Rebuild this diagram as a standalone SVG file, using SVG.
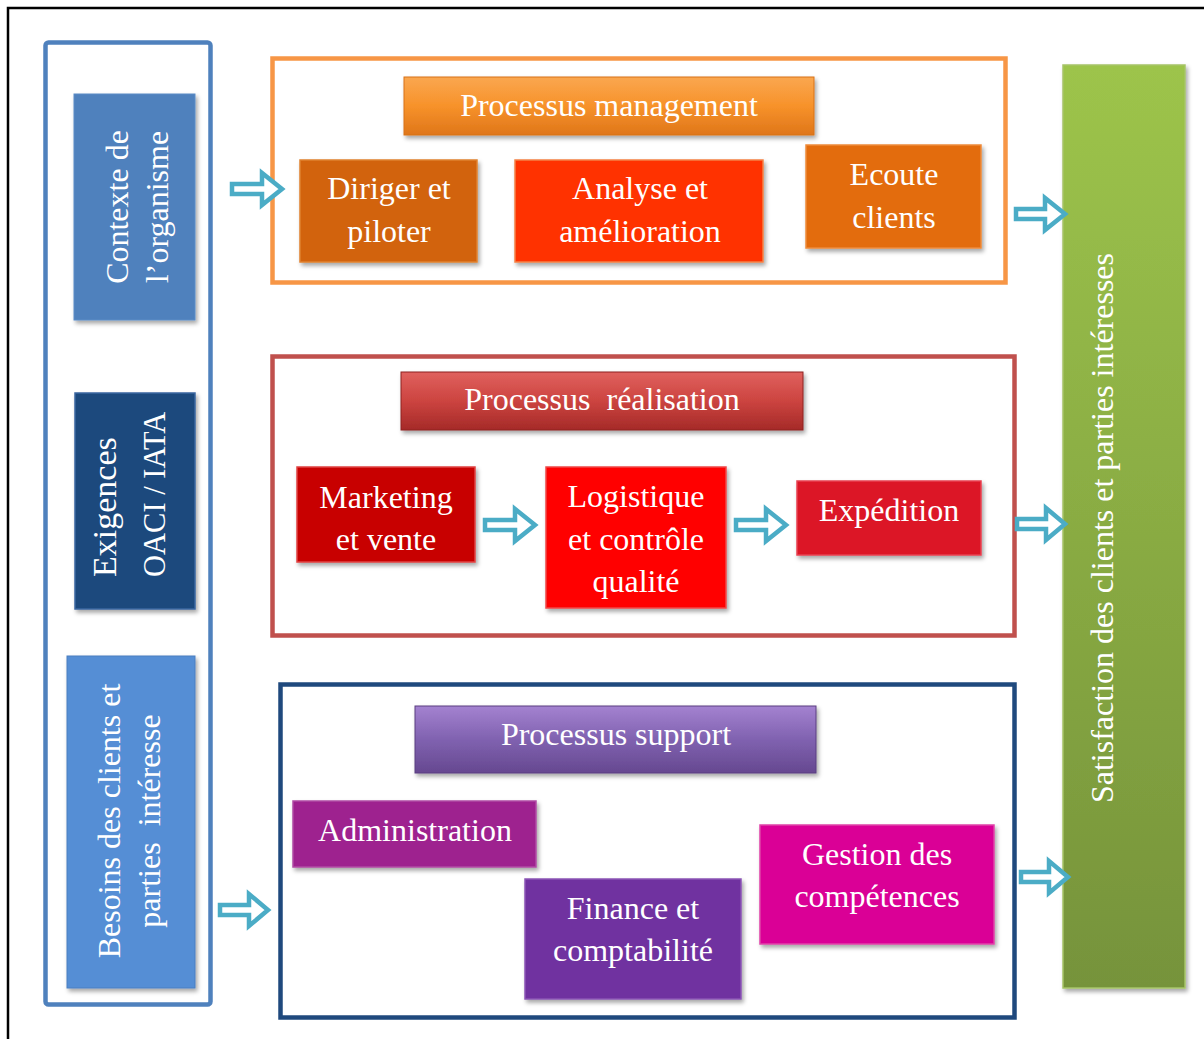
<svg xmlns="http://www.w3.org/2000/svg" width="1204" height="1039" viewBox="0 0 1204 1039">
<style>
  text { font-family: "Liberation Serif", "Times New Roman", serif; font-size: 32px; fill: #ffffff; text-anchor: middle; }
  .frame { fill: none; stroke-width: 4.5; }
  .box { filter: url(#sh); }
  .arrow { fill: #ffffff; stroke: #4BACC6; stroke-width: 4.5; stroke-linejoin: miter; }
</style>
<defs>
  <filter id="sh" x="-10%" y="-10%" width="130%" height="130%">
    <feDropShadow dx="2" dy="3" stdDeviation="2" flood-color="#000" flood-opacity="0.35"/>
  </filter>
  <linearGradient id="gOrange" x1="0" y1="0" x2="0" y2="1">
    <stop offset="0" stop-color="#FAA750"/>
    <stop offset="0.5" stop-color="#F7922A"/>
    <stop offset="1" stop-color="#DF761A"/>
  </linearGradient>
  <linearGradient id="gRed" x1="0" y1="0" x2="0" y2="1">
    <stop offset="0" stop-color="#E0615E"/>
    <stop offset="0.5" stop-color="#CC4440"/>
    <stop offset="1" stop-color="#A52A28"/>
  </linearGradient>
  <linearGradient id="gPurple" x1="0" y1="0" x2="0" y2="1">
    <stop offset="0" stop-color="#A482D0"/>
    <stop offset="0.5" stop-color="#8062B0"/>
    <stop offset="1" stop-color="#664890"/>
  </linearGradient>
  <linearGradient id="gGreen" x1="0" y1="0" x2="0" y2="1">
    <stop offset="0" stop-color="#9DC44B"/>
    <stop offset="1" stop-color="#76933B"/>
  </linearGradient>
</defs>

<rect width="1204" height="1039" fill="#ffffff"/>
<path d="M8,1039 V8 H1204" fill="none" stroke="#000000" stroke-width="2.5"/>

<g id="inputs-frame">
  <rect class="frame" x="45.5" y="42.5" width="165" height="962" rx="3" stroke="#4F81BD"/>
</g>

<g id="contexte">
  <rect class="box" x="74" y="94" width="121" height="226" fill="#4F81BD" stroke="#5B8CC6" stroke-width="1"/>
  <g transform="translate(134,207) rotate(-90)">
    <text x="0" y="-6">Contexte de</text>
    <text x="0" y="34">l’organisme</text>
  </g>
</g>

<g id="exigences">
  <rect class="box" x="75" y="393" width="120" height="216" fill="#1F497D" stroke="#3A66A0" stroke-width="1.5"/>
  <g transform="translate(135,577) rotate(-90)">
    <text x="0" y="-19" style="text-anchor:start;font-size:34px">Exigences</text>
    <text x="0" y="30" style="text-anchor:start;font-size:30.5px">OACI / IATA</text>
  </g>
</g>

<g id="besoins">
  <rect class="box" x="67" y="656" width="128" height="332" fill="#558ED5" stroke="#4A7FC0" stroke-width="1"/>
  <g transform="translate(131,821) rotate(-90)">
    <text x="0" y="-11">Besoins des clients et</text>
    <text x="0" y="29" xml:space="preserve">parties  intéresse</text>
  </g>
</g>

<g id="management">
  <rect class="frame" x="272.5" y="58.5" width="733" height="224" stroke="#F79646"/>
</g>
<g id="management-header">
  <rect class="box" x="404" y="77" width="410" height="58" fill="url(#gOrange)" stroke="#D77218" stroke-width="1"/>
  <text x="609" y="116">Processus management</text>
</g>
<g id="diriger">
  <rect class="box" x="300" y="160" width="177" height="102" fill="#D2640B" stroke="#E0812F" stroke-width="1.5"/>
  <text x="389" y="199">Diriger et</text>
  <text x="389" y="242">piloter</text>
</g>
<g id="analyse">
  <rect class="box" x="515" y="160" width="248" height="102" fill="#FF3300" stroke="#F58146" stroke-width="1.5"/>
  <text x="640" y="199">Analyse et</text>
  <text x="640" y="242">amélioration</text>
</g>
<g id="ecoute">
  <rect class="box" x="806" y="145" width="175" height="103" fill="#E36C0A" stroke="#EE8A3A" stroke-width="1.5"/>
  <text x="894" y="185">Ecoute</text>
  <text x="894" y="228">clients</text>
</g>

<g id="realisation">
  <rect class="frame" x="272.5" y="356.5" width="742" height="279" stroke="#C0504D"/>
</g>
<g id="realisation-header">
  <rect class="box" x="401" y="372" width="402" height="58" fill="url(#gRed)" stroke="#8E2220" stroke-width="1"/>
  <text x="602" y="410" xml:space="preserve">Processus  réalisation</text>
</g>
<g id="marketing">
  <rect class="box" x="297" y="467" width="178" height="95" fill="#C80000" stroke="#E04040" stroke-width="1.5"/>
  <text x="386" y="508">Marketing</text>
  <text x="386" y="550">et vente</text>
</g>
<g id="logistique">
  <rect class="box" x="546" y="467" width="180" height="141" fill="#FF0000" stroke="#F04848" stroke-width="1.5"/>
  <text x="636" y="507">Logistique</text>
  <text x="636" y="550">et contrôle</text>
  <text x="636" y="592">qualité</text>
</g>
<g id="expedition">
  <rect class="box" x="797" y="481" width="184" height="74" fill="#DC1427" stroke="#E84050" stroke-width="1.5"/>
  <text x="889" y="521">Expédition</text>
</g>

<g id="support">
  <rect class="frame" x="280.5" y="684.5" width="734" height="333" stroke="#1F497D"/>
</g>
<g id="support-header">
  <rect class="box" x="415" y="706" width="401" height="67" fill="url(#gPurple)" stroke="#5A3E80" stroke-width="1"/>
  <text x="616" y="745">Processus support</text>
</g>
<g id="administration">
  <rect class="box" x="293" y="801" width="243" height="66" fill="#9E208F" stroke="#B04AA4" stroke-width="1.5"/>
  <text x="415" y="841">Administration</text>
</g>
<g id="finance">
  <rect class="box" x="525" y="879" width="216" height="120" fill="#7030A0" stroke="#8A55B5" stroke-width="1.5"/>
  <text x="633" y="919">Finance et</text>
  <text x="633" y="961">comptabilité</text>
</g>
<g id="gestion">
  <rect class="box" x="760" y="825" width="234" height="119" fill="#DA0096" stroke="#E040A8" stroke-width="1.5"/>
  <text x="877" y="865">Gestion des</text>
  <text x="877" y="907">compétences</text>
</g>

<g id="satisfaction">
  <rect class="box" x="1063" y="65" width="122" height="923" fill="url(#gGreen)" stroke="#A6C468" stroke-width="1.5"/>
  <g transform="translate(1113,528) rotate(-90)">
    <text x="0" y="0">Satisfaction des clients et parties intéresses</text>
  </g>
</g>

<g id="connectors">
  <polygon class="arrow" points="232,184 262,184 262,173 282,189 262,205 262,194 232,194"/>
  <polygon class="arrow" points="1016,209 1045,209 1045,198 1065,214 1045,230 1045,219 1016,219"/>
  <polygon class="arrow" points="485,520 515,520 515,509 535,525 515,541 515,530 485,530"/>
  <polygon class="arrow" points="736,520 766,520 766,509 786,525 766,541 766,530 736,530"/>
  <polygon class="arrow" points="1017,519 1046,519 1046,508 1065,524 1046,540 1046,529 1017,529"/>
  <polygon class="arrow" points="220,905 249,905 249,894 268,910 249,926 249,915 220,915"/>
  <polygon class="arrow" points="1021,872 1049,872 1049,861 1068,877 1049,893 1049,882 1021,882"/>
</g>
</svg>
